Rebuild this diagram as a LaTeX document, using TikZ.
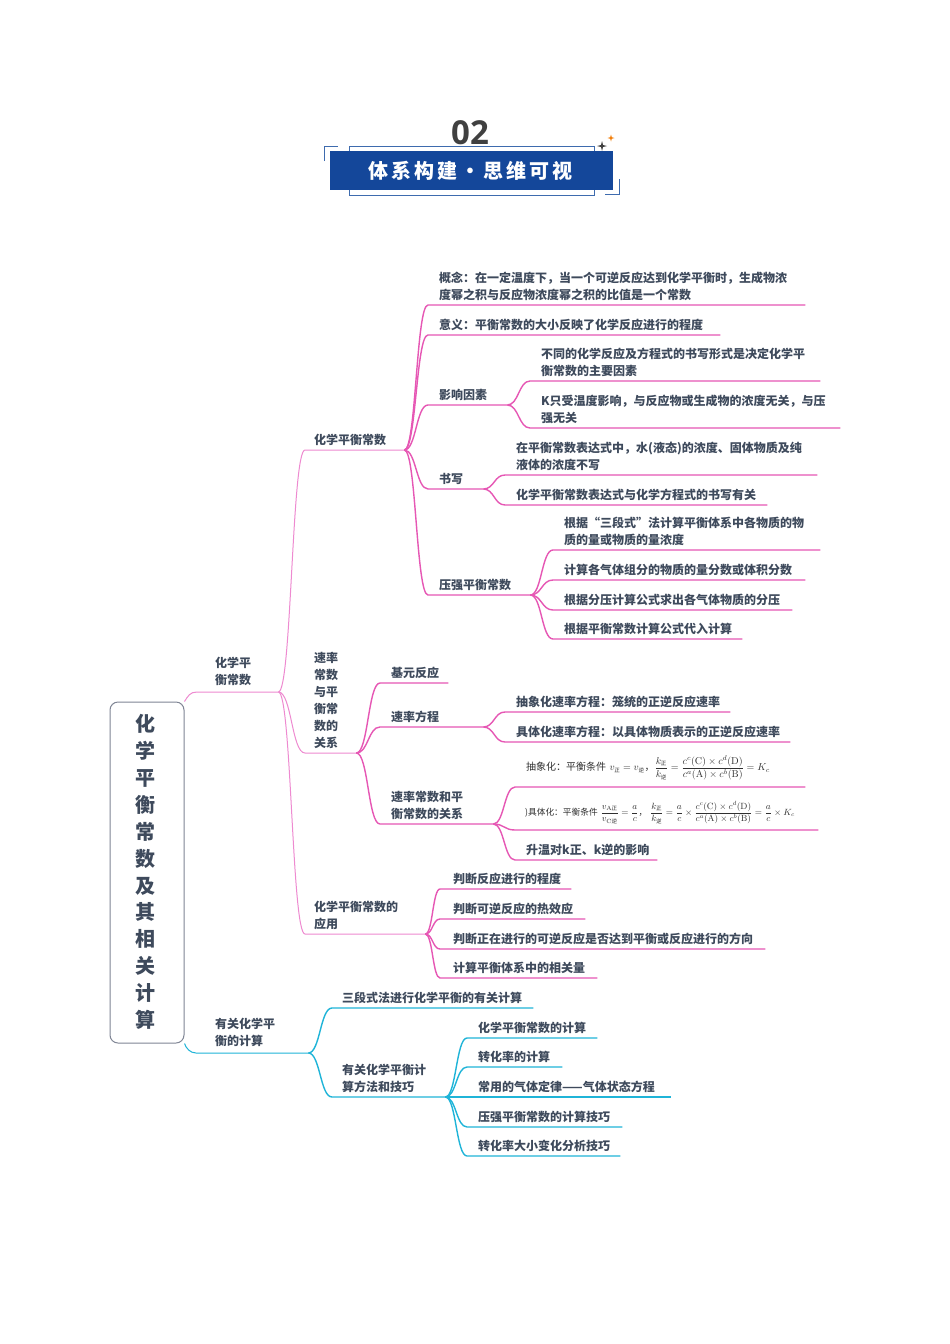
\documentclass[tikz,border=0pt]{standalone}
\usepackage[no-math]{fontspec}
\usepackage{amsmath}
\setmainfont{Noto Sans CJK SC}
\newfontfamily\cjkbody{Noto Sans CJK SC}
\newfontfamily\spacedfont[LetterSpace=15]{Noto Sans CJK SC}
\newfontfamily\numfont{Open Sans}
\usetikzlibrary{calc}
\definecolor{txt}{HTML}{3E4A5C}
\definecolor{pinkA}{HTML}{EE8AD0}
\definecolor{pinkB}{HTML}{E657B4}
\definecolor{cyanA}{HTML}{1FB4D8}
\definecolor{barblue}{HTML}{14479A}
\definecolor{framebl}{HTML}{3E6BAE}
\definecolor{rootline}{HTML}{7F8594}
\definecolor{formulatxt}{HTML}{303030}
\tikzset{
  topicnode/.style={inner xsep=0pt,inner ysep=4.5pt,anchor=south west,align=left,text=txt,font=\bfseries\fontsize{12}{17}\selectfont},
  branchnode/.style={topicnode,inner ysep=6pt},
  formulanode/.style={inner xsep=0pt,anchor=south west,align=left,text=formulatxt},
  thinpink/.style={draw=pinkA,line width=1pt},
  boldpink/.style={draw=pinkB,line width=1.4pt},
  thincyan/.style={draw=cyanA,line width=1pt},
  boldcyan/.style={draw=cyanA,line width=1.4pt},
  rootbox/.style={draw=rootline,rounded corners=8pt,line width=1pt,fill=white,minimum width=74pt,minimum height=341pt,inner sep=0pt},
  rootlabel/.style={align=center,inner sep=0pt,text=txt,font=\bfseries\fontsize{20}{26.85}\selectfont},
  titlebar/.style={fill=barblue,minimum width=283pt,minimum height=39pt,inner sep=0pt,text=white,font=\spacedfont\bfseries\fontsize{20}{24}\selectfont},
  framerule/.style={draw=framebl,line width=1pt},
}
% \tp[style]{name}{x0}{x1}{yline}{textx}{text}
\newcommand{\NL}{\\\hspace*{\myoffset pt}}
\newcommand{\tp}[7][topicnode]{%
  \pgfmathsetmacro{\mywidth}{#4-#3}%
  \pgfmathsetmacro{\myoffset}{#6-#3}%
  \node[#1,text width=\mywidth pt] (#2) at (#3,#5) {\hspace*{\myoffset pt}#7};}
% \lk{style}{parent}{child}
\newcommand{\lk}[3]{%
  \coordinate (mm) at ($(#2.south east)!.5!(#3.south west)$);
  \draw[#1] (#2.south east) .. controls (mm |- #2.south east) and (mm |- #3.south west) .. (#3.south west) -- (#3.south east);}
\newcommand{\zh}[1]{\hbox{\cjkbody\fontsize{5.5}{5.5}\selectfont #1}}
\begin{document}
\begin{tikzpicture}[x=1pt,y=-1pt]
\useasboundingbox[fill=white] (0,0) rectangle (950,1344);
% header
\node[text=black!75,font=\numfont\bfseries\fontsize{33}{36}\selectfont] (num) at (470,133) {02};
\draw[framerule] (349,151) -- (349,146) -- (594,146) -- (594,151);
\draw[framerule] (349,190) -- (349,195) -- (594,195) -- (594,190);
\draw[framerule] (324,161) -- (324,146) -- (338,146);
\draw[framerule] (605,194) -- (619,194) -- (619,179);
\node[titlebar] (bar) at (471.5,170.5) {\hspace*{-2pt}\raisebox{-2pt}{体系构建・思维可视}};
\fill[black!75] (602,141) -- (603,145) -- (607,146) -- (603,147) -- (602,151) -- (601,147) -- (597,146) -- (601,145) -- cycle;
\fill[orange!80!brown] (611,134.5) -- (611.8,137.2) -- (614.5,138) -- (611.8,138.8) -- (611,141.5) -- (610.2,138.8) -- (607.5,138) -- (610.2,137.2) -- cycle;
% level 1 and 2
\tp[branchnode]{ba}{197}{278}{692}{215}{化学平\NL 衡常数}
\tp[branchnode]{bb}{196}{308}{1053}{215}{有关化学平\NL 衡的计算}
\tp{ca}{305}{404}{450}{314}{化学平衡常数}
\tp{cb}{305}{356}{753}{314}{速率\NL 常数\NL 与平\NL 衡常\NL 数的\NL 关系}
\tp{cc}{305}{425}{934}{314}{化学平衡常数的\NL 应用}
% under ca
\tp{da}{428}{805}{305}{439}{概念：在一定温度下，当一个可逆反应达到化学平衡时，生成物浓\NL 度幂之积与反应物浓度幂之积的比值是一个常数}
\tp{db}{428}{720}{335}{439}{意义：平衡常数的大小反映了化学反应进行的程度}
\tp{dc}{428}{507}{405}{439}{影响因素}
\tp{dd}{428}{483}{489}{439}{书写}
\tp{de}{428}{530}{595}{439}{压强平衡常数}
\tp{ea}{530}{820}{381}{541}{不同的化学反应及方程式的书写形式是决定化学平\NL 衡常数的主要因素}
\tp{eb}{530}{840}{428}{541}{K只受温度影响，与反应物或生成物的浓度无关，与压\NL 强无关}
\tp{ec}{505}{817}{475}{516}{在平衡常数表达式中，水(液态)的浓度、固体物质及纯\NL 液体的浓度不写}
\tp{ed}{505}{767}{505}{516}{化学平衡常数表达式与化学方程式的书写有关}
\tp{ee}{553}{820}{550}{564}{根据“三段式”法计算平衡体系中各物质的物\NL 质的量或物质的量浓度}
\tp{ef}{553}{805}{580}{564}{计算各气体组分的物质的量分数或体积分数}
\tp{eg}{553}{792}{610}{564}{根据分压计算公式求出各气体物质的分压}
\tp{eh}{553}{742}{639}{564}{根据平衡常数计算公式代入计算}
% under cb
\tp{fa}{380}{448}{683}{391}{基元反应}
\tp{fb}{380}{483}{727}{391}{速率方程}
\tp{fc}{380}{493}{824}{391}{速率常数和平\NL 衡常数的关系}
\tp{ga}{505}{730}{712}{516}{抽象化速率方程：笼统的正逆反应速率}
\tp{gb}{505}{790}{742}{516}{具体化速率方程：以具体物质表示的正逆反应速率}
\node[formulanode,inner ysep=6.5pt,text width=290pt,font=\fontsize{10}{12}\selectfont] (gc) at (515,787) {\hspace*{11pt}抽象化：平衡条件 $v_{\zh{正}}=v_{\zh{逆}}$，$\dfrac{k_{\zh{正}}}{k_{\zh{逆}}}=\dfrac{c^{c}(\mathrm{C})\times c^{d}(\mathrm{D})}{c^{a}(\mathrm{A})\times c^{b}(\mathrm{B})}=K_{c}$};
\node[formulanode,inner ysep=6pt,text width=303pt,font=\fontsize{8.7}{10}\selectfont] (gd) at (515,830) {\hspace*{10pt})具体化：平衡条件 $\dfrac{v_{\mathrm{A}\zh{正}}}{v_{\mathrm{C}\zh{逆}}}=\dfrac{a}{c}$，\ $\dfrac{k_{\zh{正}}}{k_{\zh{逆}}}=\dfrac{a}{c}\times\dfrac{c^{c}(\mathrm{C})\times c^{d}(\mathrm{D})}{c^{a}(\mathrm{A})\times c^{b}(\mathrm{B})}=\dfrac{a}{c}\times K_{c}$};
\tp{ge}{515}{657}{860}{526}{升温对k正、k逆的影响}
% under cc
\tp{ha}{440}{571}{889}{453}{判断反应进行的程度}
\tp{hb}{440}{585}{919}{453}{判断可逆反应的热效应}
\tp{hc}{440}{765}{949}{453}{判断正在进行的可逆反应是否达到平衡或反应进行的方向}
\tp{hd}{440}{597}{978}{453}{计算平衡体系中的相关量}
% under bb
\tp{ia}{332}{533}{1008}{342}{三段式法进行化学平衡的有关计算}
\tp{ib}{332}{445}{1097}{342}{有关化学平衡计\NL 算方法和技巧}
\tp{ja}{467}{597}{1038}{478}{化学平衡常数的计算}
\tp{jb}{467}{562}{1067}{478}{转化率的计算}
\tp{jc}{467}{671}{1097}{478}{常用的气体定律——气体状态方程}
\tp{jd}{467}{622}{1127}{478}{压强平衡常数的计算技巧}
\tp{je}{467}{620}{1156}{478}{转化率大小变化分析技巧}
% root
\node[rootbox] (root) at (147,872.5) {};
\node[rootlabel] (roottext) at (145,872) {化\\学\\平\\衡\\常\\数\\及\\其\\相\\关\\计\\算};
% connectors
\draw[thinpink] (root.north east) .. controls (188,696) and (190,692) .. (ba.south west) -- (ba.south east);
\draw[thincyan] (root.south east) .. controls (186,1048) and (190,1053) .. (bb.south west) -- (bb.south east);
\foreach \c in {ca,cb,cc}{\lk{thinpink}{ba}{\c}}
\foreach \c in {da,db,dc,dd,de}{\lk{boldpink}{ca}{\c}}
\foreach \c in {ea,eb}{\lk{boldpink}{dc}{\c}}
\foreach \c in {ec,ed}{\lk{boldpink}{dd}{\c}}
\foreach \c in {ee,ef,eg,eh}{\lk{boldpink}{de}{\c}}
\foreach \c in {fa,fb,fc}{\lk{boldpink}{cb}{\c}}
\foreach \c in {ga,gb}{\lk{boldpink}{fb}{\c}}
\foreach \c in {gc,gd,ge}{\lk{boldpink}{fc}{\c}}
\foreach \c in {ha,hb,hc,hd}{\lk{boldpink}{cc}{\c}}
\foreach \c in {ia,ib}{\lk{boldcyan}{bb}{\c}}
\foreach \c in {ja,jb,jc,jd,je}{\lk{boldcyan}{ib}{\c}}
\end{tikzpicture}
\end{document}
